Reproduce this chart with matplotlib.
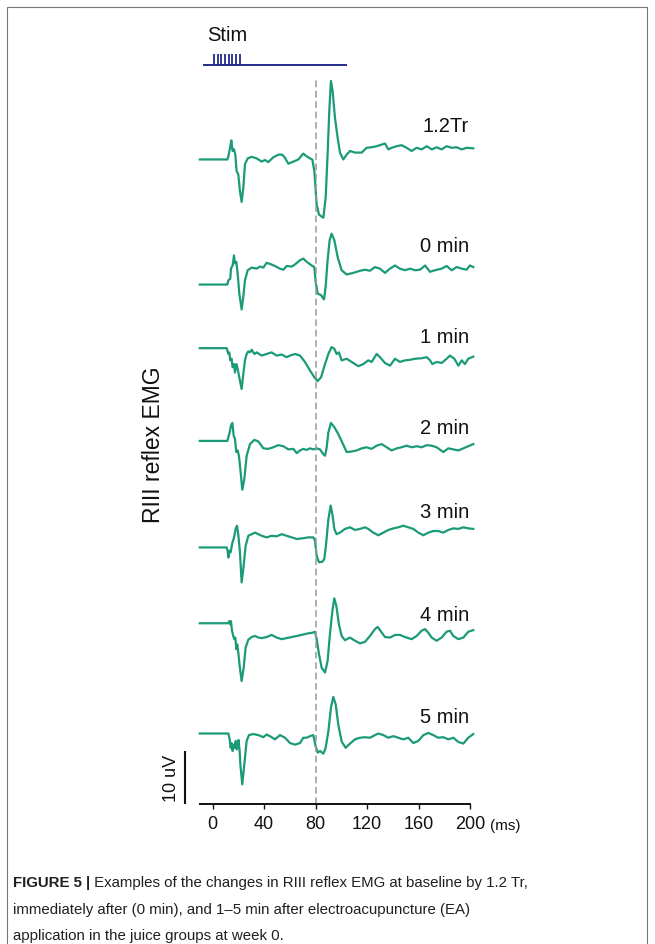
import matplotlib
matplotlib.use("Agg")
import matplotlib.pyplot as plt
import numpy as np
from matplotlib.patches import Rectangle

plt.rcParams['font.family'] = ['Liberation Sans', 'DejaVu Sans']

# RIII reflex EMG traces, (time ms, amplitude uV)
trace_12tr = [(-10, 0), (11.4, 0), (12.2, 0.6), (13.5, 2.2), (14.5, 3.6), (15.5, 1.6), (16.6, 1.9), (17.6, 0.9),
              (18.6, -2.2), (19.9, -2.8), (21.2, -6.0), (22.5, -8.0), (23.8, -5.4), (25.1, -0.9), (27.2, 0.2),
              (30.3, 0.5), (34.2, 0.2), (38.1, -0.4), (40.6, -0.1), (43.2, -0.5), (47.1, 0.4), (51.0, 0.9),
              (54.1, 0.9), (56.2, 0.3), (58.8, -0.8), (62.7, -0.4), (66.6, 0), (70.4, 1.1), (73.0, 0.6),
              (75.6, 0.2), (77.4, 0), (79.0, -2.2), (80.8, -8.5), (82.6, -10.4), (86.0, -11.0), (87.8, -7.2),
              (89.3, 0.9), (90.6, 9.1), (91.9, 14.8), (93.2, 12.9), (95.0, 7.9), (97.1, 4.1), (98.9, 1.3),
              (101.5, 0), (104.1, 0.9), (106.7, 1.6), (110.6, 1.3), (115.8, 1.3), (119.6, 2.2), (123.5, 2.3),
              (127.4, 2.5), (131.3, 2.8), (133.9, 3.0), (136.5, 1.9), (139.1, 2.2), (143.0, 2.5), (146.8, 2.7),
              (150.7, 2.2), (154.6, 1.6), (158.5, 2.2), (162.4, 1.9), (166.3, 2.5), (170.2, 1.9), (174.0, 2.3),
              (177.9, 1.9), (181.8, 2.5), (185.7, 2.2), (189.6, 2.3), (193.5, 1.9), (197.3, 2.2), (202.5, 2.1)]

trace_0min = [(-10, 0), (11.4, 0), (12.2, 0.8), (13.7, 1.1), (14.2, 3.0), (15.5, 3.6), (16.6, 5.5), (17.3, 4.0),
              (18.4, 4.3), (19.4, 2.1), (20.7, -1.7), (22.5, -4.7), (23.8, -2.3), (25.1, 0.8), (27.2, 2.7),
              (30.3, 3.2), (34.2, 3.0), (36.8, 3.4), (39.4, 3.2), (41.9, 4.1), (44.5, 3.9), (48.4, 3.5),
              (52.3, 3.0), (54.9, 2.8), (57.5, 3.5), (61.4, 3.4), (64.0, 3.8), (67.9, 4.6), (70.4, 4.9),
              (73.0, 4.3), (76.9, 3.6), (79.0, 3.3), (80.0, 0.5), (81.6, -1.7), (84.2, -2.0), (86.5, -2.8),
              (87.8, -0.4), (89.3, 4.6), (90.9, 8.4), (92.4, 9.6), (94.5, 8.4), (97.1, 5.2), (100.2, 2.7),
              (104.1, 1.9), (109.3, 2.2), (114.5, 2.6), (118.4, 2.8), (122.2, 2.6), (126.1, 3.3), (130.0, 3.0),
              (133.9, 2.2), (137.8, 3.0), (141.7, 3.6), (145.5, 3.0), (149.4, 2.7), (153.3, 3.0), (157.2, 2.7),
              (161.1, 2.8), (165.0, 3.6), (168.9, 2.4), (172.7, 2.7), (177.9, 3.0), (181.8, 3.5), (185.7, 2.7),
              (189.6, 3.3), (193.5, 3.0), (197.3, 2.8), (199.9, 3.6), (202.5, 3.3)]

trace_1min = [(-10, 0), (10.9, 0), (12.2, -1.1), (12.9, -0.8), (13.7, -2.3), (14.7, -2.0), (15.5, -3.6), (16.6, -3.0),
              (17.3, -4.6), (18.4, -3.0), (19.4, -3.9), (20.7, -5.5), (22.5, -7.7), (23.8, -4.9), (25.1, -2.3),
              (26.4, -1.1), (27.7, -0.6), (29.0, -0.8), (30.3, -0.3), (32.4, -1.1), (34.2, -0.8), (38.1, -1.4),
              (41.9, -1.1), (45.8, -0.8), (49.7, -1.4), (53.6, -1.2), (57.5, -1.7), (60.1, -1.4), (64.0, -1.1),
              (67.9, -1.4), (71.7, -2.6), (75.6, -4.2), (79.0, -5.5), (81.6, -6.2), (84.2, -5.5), (87.3, -3.0),
              (89.9, -1.1), (92.4, 0.2), (94.5, -0.1), (96.3, -1.1), (98.1, -0.8), (100.2, -2.3), (104.1, -2.0),
              (108.0, -2.6), (113.2, -3.4), (117.1, -3.0), (120.9, -2.3), (123.5, -2.6), (127.4, -1.1),
              (130.0, -1.7), (133.9, -2.8), (137.8, -3.3), (141.7, -2.0), (145.5, -2.6), (149.4, -2.3),
              (153.3, -2.2), (157.2, -2.0), (162.4, -1.9), (166.3, -1.7), (168.9, -2.3), (170.7, -3.0),
              (174.0, -2.6), (177.9, -2.8), (181.8, -2.0), (184.4, -1.4), (187.8, -2.0), (190.9, -3.3),
              (193.5, -2.3), (196.0, -3.0), (198.6, -2.0), (202.5, -1.6)]

trace_2min = [(-10, 0), (11.4, 0), (12.2, 0.7), (13.2, 1.6), (14.2, 2.9), (15.3, 3.4), (16.3, 1.0), (17.3, 0.4),
              (18.4, -2.1), (19.4, -1.8), (20.4, -2.8), (21.5, -5.3), (23.0, -9.2), (24.6, -7.2), (26.4, -2.8),
              (29.0, -0.6), (32.4, 0.2), (35.5, -0.1), (39.4, -1.4), (43.2, -1.5), (47.1, -1.2), (51.0, -0.8),
              (54.9, -1.0), (58.8, -1.6), (62.7, -1.5), (65.3, -2.3), (67.9, -1.8), (70.4, -1.5), (73.0, -1.7),
              (75.6, -1.4), (78.2, -1.6), (80.8, -1.4), (83.4, -1.6), (86.0, -2.5), (87.3, -2.8), (88.6, -1.2),
              (89.9, 1.6), (91.9, 3.4), (94.5, 2.6), (97.6, 1.3), (100.7, -0.3), (104.1, -2.1), (108.0, -2.0),
              (111.9, -1.8), (115.8, -1.4), (119.6, -1.2), (123.5, -1.5), (127.4, -0.9), (131.3, -0.6),
              (135.2, -1.2), (139.1, -1.8), (143.0, -1.4), (146.8, -1.2), (150.7, -0.9), (154.6, -1.2),
              (158.5, -1.0), (162.4, -1.2), (166.3, -0.8), (170.2, -0.9), (174.0, -1.2), (179.2, -2.1),
              (183.1, -1.4), (187.0, -1.6), (190.9, -1.8), (194.8, -1.4), (198.6, -1.0), (202.5, -0.6)]

trace_3min = [(-10, 0), (10.9, 0), (11.6, -0.6), (12.2, -1.9), (13.2, -0.6), (14.0, -0.9), (15.3, 0.9), (16.3, 1.6),
              (17.9, 3.5), (18.9, 4.1), (19.9, 2.5), (21.2, -0.9), (22.5, -6.6), (23.8, -4.1), (25.6, 0.3),
              (27.7, 2.2), (30.3, 2.5), (32.9, 2.8), (35.5, 2.5), (38.1, 2.2), (41.9, 1.9), (45.8, 2.2),
              (49.7, 2.1), (53.6, 2.5), (57.5, 2.2), (61.4, 1.9), (65.3, 1.6), (69.1, 1.7), (74.3, 1.9),
              (78.2, 1.9), (79.5, 1.3), (80.8, -1.6), (82.6, -2.8), (85.2, -2.7), (86.7, -2.2), (88.0, 0.3),
              (89.9, 5.3), (91.7, 7.9), (93.2, 6.0), (94.5, 3.5), (96.3, 2.5), (98.9, 2.8), (102.8, 3.5),
              (106.7, 3.8), (110.6, 3.3), (114.5, 3.5), (118.4, 3.8), (120.9, 3.5), (124.8, 2.8), (128.7, 2.3),
              (132.6, 2.8), (136.5, 3.3), (140.4, 3.6), (144.2, 3.8), (148.1, 4.1), (152.0, 3.8), (155.9, 3.5),
              (159.8, 2.8), (163.7, 2.3), (167.6, 2.8), (171.4, 3.1), (175.3, 3.1), (179.2, 2.8), (183.1, 3.3),
              (187.0, 3.6), (190.9, 3.5), (194.8, 3.8), (198.6, 3.6), (202.5, 3.5)]

trace_4min = [(-10, 0), (12.2, 0), (12.9, 0.4), (13.7, -0.2), (14.2, 0.4), (15.0, -1.4), (16.0, -2.4), (16.8, -3.0),
              (17.6, -2.7), (18.4, -4.9), (19.1, -4.0), (19.9, -5.5), (20.95, -8.0), (22.5, -10.9), (24.1, -8.4),
              (25.6, -4.6), (27.7, -3.1), (30.3, -2.6), (32.9, -2.4), (35.5, -2.7), (38.1, -2.8), (41.9, -2.6),
              (45.8, -2.2), (49.7, -2.7), (53.6, -3.0), (57.5, -2.8), (61.4, -2.6), (65.3, -2.4), (69.1, -2.2),
              (74.3, -1.9), (77.4, -1.8), (79.5, -1.6), (80.8, -3.0), (82.6, -5.8), (84.7, -8.4), (87.3, -9.3),
              (89.3, -7.1), (91.1, -2.1), (93.0, 2.3), (94.5, 4.7), (96.1, 3.3), (98.1, -0.2), (100.2, -2.4),
              (102.8, -3.2), (106.7, -2.7), (110.6, -3.3), (114.5, -3.8), (118.4, -3.5), (122.2, -2.4),
              (126.1, -1.1), (128.2, -0.7), (130.3, -1.4), (133.9, -2.6), (137.8, -2.7), (141.7, -2.2),
              (145.5, -2.2), (149.4, -2.6), (154.6, -3.0), (158.5, -2.4), (162.4, -1.4), (165.0, -1.1),
              (167.6, -1.8), (170.2, -2.7), (174.0, -3.3), (177.9, -2.7), (181.8, -1.6), (184.4, -1.4),
              (187.0, -2.4), (190.9, -3.0), (194.8, -2.7), (198.6, -1.6), (202.5, -1.3)]

trace_5min = [(-10, 0), (12.2, 0), (13.2, -1.1), (14.0, -2.7), (14.7, -1.8), (15.5, -3.3), (16.3, -2.1), (17.1, -2.7),
              (17.9, -1.4), (18.6, -3.0), (19.4, -2.4), (20.1, -1.2), (21.0, -3.5), (21.5, -5.8), (23.0, -9.6),
              (24.6, -5.8), (26.4, -1.4), (28.2, -0.3), (31.6, -0.1), (35.5, -0.3), (39.4, -0.7), (41.9, -0.2),
              (44.5, -0.5), (48.4, -1.1), (52.3, -0.3), (56.2, -0.8), (60.1, -1.8), (64.0, -2.1), (67.9, -1.8),
              (70.4, -0.8), (73.0, -0.8), (75.6, -0.5), (78.2, -0.3), (80.0, -2.4), (81.6, -3.6), (83.4, -3.3),
              (86.0, -3.8), (87.8, -2.7), (89.9, 0.4), (91.9, 4.9), (93.7, 6.9), (95.6, 5.5), (97.6, 1.7),
              (100.2, -1.5), (103.3, -2.7), (106.7, -1.9), (110.6, -1.1), (114.5, -0.8), (118.4, -0.7),
              (122.2, -0.8), (126.1, -0.3), (128.7, 0), (132.6, -0.3), (136.5, -0.8), (140.4, -0.5),
              (144.2, -0.8), (148.1, -1.1), (152.0, -0.8), (155.9, -1.8), (159.8, -1.4), (163.7, -0.3),
              (167.6, 0.1), (171.4, -0.3), (175.3, -0.8), (179.2, -0.7), (183.1, -1.1), (187.0, -0.8),
              (190.9, -1.6), (194.8, -1.9), (198.6, -0.8), (202.5, -0.1)]

traces = [trace_12tr, trace_0min, trace_1min, trace_2min, trace_3min, trace_4min, trace_5min]
trace_labels = ['1.2Tr', '0 min', '1 min', '2 min', '3 min', '4 min', '5 min']

# stimulus train
stim_pulses = [1.0, 3.9, 6.8, 9.7, 12.5, 15.4, 18.3, 21.2]
stim_on, stim_off = -7.8, 104.0
xticks = [0, 40, 80, 120, 160, 200]

# layout (uV offsets for stacking the traces)
offsets = [121.6, 98.0, 86.0, 68.5, 48.4, 34.1, 13.3]
label_y = [126.9, 104.3, 87.2, 69.9, 54.2, 34.7, 15.5]

green = '#1b9a78'
navy = '#232a8c'

fig = plt.figure(figsize=(6.55, 9.45), dpi=100)
ax = fig.add_axes([199.8 / 655, 140 / 945, 276.7 / 655, 785 / 945])
ax.set_xlim(-10, 205)
ax.set_ylim(0, 148.1)

for tr, off in zip(traces, offsets):
    t = np.array([p[0] for p in tr])
    v = np.array([p[1] for p in tr])
    ax.plot(t, v + off, color=green, lw=1.6, solid_joinstyle='round', clip_on=False)

for lab, y in zip(trace_labels, label_y):
    ax.text(199, y, lab, ha='right', va='baseline', fontsize=14.5, color='#111111')

# stim
ax.plot([stim_on, stim_off], [139.5, 139.5], color=navy, lw=1.4, solid_capstyle='butt')
ax.vlines(stim_pulses, 139.5, 141.5, color=navy, lw=1.3)
ax.text(-4.4, 144.2, 'Stim', ha='left', va='baseline', fontsize=14.5, color='#111111')

# dashed marker at 80 ms
ax.plot([80, 80], [0, 137.2], color='#9a9a9a', lw=1.1, dashes=(4.4, 2.4))

# scale bar
ax.plot([-21.5, -21.5], [0, 10], color='#111111', lw=1.5, clip_on=False, solid_capstyle='butt')
ax.text(-32.3, 5, '10 uV', rotation=90, ha='center', va='center', fontsize=13, color='#111111')

# axis
for s in ['left', 'top', 'right']:
    ax.spines[s].set_visible(False)
ax.spines['bottom'].set_bounds(-10, 200)
ax.spines['bottom'].set_linewidth(1.4)
ax.spines['bottom'].set_color('#111111')
ax.set_yticks([])
ax.set_xticks(xticks)
ax.tick_params(axis='x', length=3.6, width=1.0, pad=4, labelsize=13, colors='#111111')
ax.patch.set_visible(False)

fig.text(490 / 655, 1 - 826 / 945, '(ms)', ha='left', va='center', fontsize=11, color='#111111')
fig.text(154 / 655, 1 - 445 / 945, 'RIII reflex EMG', rotation=90, ha='center', va='center',
         fontsize=16.5, color='#111111')

# frame
fig.patches.append(Rectangle((7 / 655, -0.05), 640 / 655, 1.05 - 8 / 945, transform=fig.transFigure,
                             fill=False, edgecolor='#777777', lw=0.8))

# caption
cap_size = 10.8
bold = fig.text(13 / 655, 1 - 887 / 945, 'FIGURE 5 |', ha='left', va='baseline', fontsize=cap_size,
                fontweight='bold', color='#231f20')
fig.canvas.draw()
bb = bold.get_window_extent()
fig.text(bb.x1 / fig.bbox.width, 1 - 887 / 945, ' Examples of the changes in RIII reflex EMG at baseline by 1.2 Tr,',
         ha='left', va='baseline', fontsize=cap_size, color='#231f20')
fig.text(13 / 655, 1 - 914 / 945, 'immediately after (0 min), and 1\u20135 min after electroacupuncture (EA)',
         ha='left', va='baseline', fontsize=cap_size, color='#231f20')
fig.text(13 / 655, 1 - 940 / 945, 'application in the juice groups at week 0.',
         ha='left', va='baseline', fontsize=cap_size, color='#231f20')

fig.savefig('out.png', dpi=100)
